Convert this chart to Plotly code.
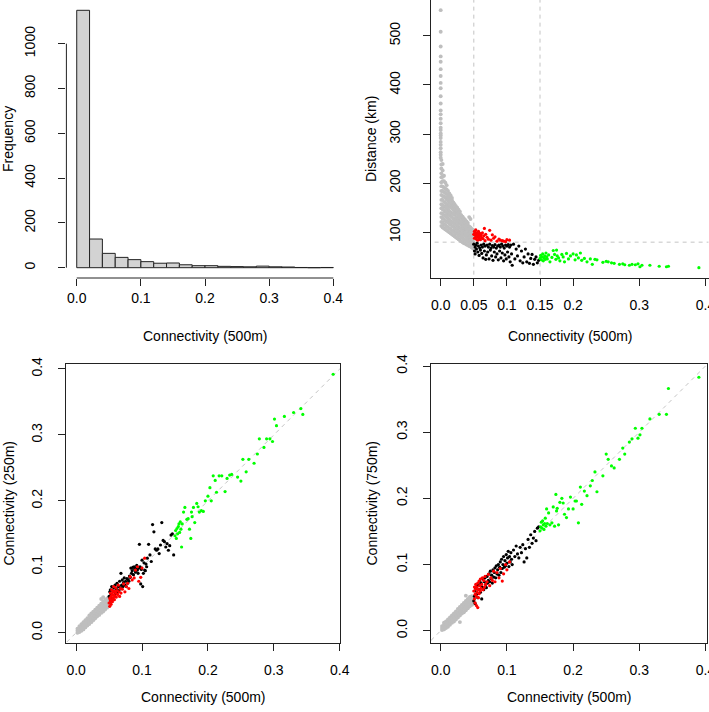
import plotly.graph_objects as go

W, H = 709, 712
FONT = "Liberation Sans, Arial, Helvetica, sans-serif"

# ---------------- data ----------------
bin_edges = [0.00, 0.02, 0.04, 0.06, 0.08, 0.10, 0.12, 0.14, 0.16, 0.18, 0.20,
             0.22, 0.24, 0.26, 0.28, 0.30, 0.32, 0.34, 0.36, 0.38, 0.40]
bin_counts = [1149, 128, 64, 46, 36, 27, 20, 21, 13, 9,
              9, 6, 5, 4, 7, 4, 3, 1, 0, 1]

hist_xticks = [0.0, 0.1, 0.2, 0.3, 0.4]
hist_xlabels = ["0.0", "0.1", "0.2", "0.3", "0.4"]
hist_yticks = [0, 200, 400, 600, 800, 1000]

dist_xticks = [0.0, 0.05, 0.1, 0.15, 0.2, 0.3, 0.4]
dist_xlabels = ["0.0", "0.05", "0.1", "0.15", "0.2", "0.3", "0.4"]
dist_yticks = [100, 200, 300, 400, 500]

conn_ticks = [0.0, 0.1, 0.2, 0.3, 0.4]
conn_labels = ["0.0", "0.1", "0.2", "0.3", "0.4"]

conn_cuts = [0.05, 0.15]
dist_cut = 80
diag_ends = [-0.1, 0.5]

green_c500 = [0.150, 0.151, 0.152, 0.153, 0.154, 0.155, 0.156, 0.157, 0.158, 0.159,
              0.160, 0.161, 0.163, 0.165, 0.168, 0.170, 0.172, 0.174, 0.175, 0.176,
              0.178, 0.180, 0.183, 0.185, 0.187, 0.190, 0.193, 0.196, 0.200, 0.203,
              0.205, 0.208, 0.211, 0.213, 0.217, 0.221, 0.226, 0.229, 0.233, 0.236,
              0.245, 0.250, 0.253, 0.258, 0.262, 0.270, 0.275, 0.278, 0.285, 0.289,
              0.294, 0.298, 0.301, 0.304, 0.316, 0.330, 0.341, 0.344, 0.390]
green_dist = [47, 53, 44, 50, 56, 42, 48, 52, 45, 58,
              50, 46, 54, 40, 49, 63, 55, 45, 64, 52,
              48, 42, 55, 50, 40, 57, 46, 52, 56, 44,
              54, 48, 58, 43, 47, 40, 46, 35, 45, 44,
              39, 41, 40, 38, 37, 35, 36, 34, 33, 35,
              34, 36, 30, 33, 33, 31, 30, 31, 28]
green_c250 = [0.147, 0.155, 0.143, 0.158, 0.150, 0.161, 0.165, 0.152, 0.168, 0.157,
              0.130, 0.165, 0.183, 0.190, 0.172, 0.173, 0.157, 0.143, 0.183, 0.176,
              0.190, 0.167, 0.196, 0.191, 0.183, 0.185, 0.184, 0.200, 0.207, 0.220,
              0.200, 0.238, 0.231, 0.213, 0.238, 0.238, 0.214, 0.234, 0.239, 0.240,
              0.236, 0.230, 0.263, 0.244, 0.263, 0.257, 0.271, 0.294, 0.281, 0.294,
              0.294, 0.290, 0.324, 0.314, 0.328, 0.334, 0.340, 0.331, 0.392]
green_c750 = [0.151, 0.157, 0.164, 0.155, 0.166, 0.160, 0.153, 0.162, 0.170, 0.158,
              0.184, 0.162, 0.178, 0.160, 0.163, 0.187, 0.158, 0.206, 0.181, 0.185,
              0.160, 0.194, 0.200, 0.193, 0.176, 0.171, 0.184, 0.202, 0.184, 0.196,
              0.196, 0.163, 0.217, 0.191, 0.211, 0.204, 0.219, 0.227, 0.240, 0.210,
              0.234, 0.267, 0.259, 0.249, 0.246, 0.259, 0.276, 0.267, 0.285, 0.290,
              0.306, 0.291, 0.296, 0.306, 0.320, 0.327, 0.327, 0.366, 0.383]

black_c500 = [0.050, 0.051, 0.052, 0.052, 0.053, 0.054, 0.055, 0.056, 0.057, 0.058,
              0.059, 0.060, 0.061, 0.062, 0.063, 0.064, 0.065, 0.066, 0.067, 0.068,
              0.069, 0.070, 0.071, 0.072, 0.073, 0.074, 0.075, 0.076, 0.077, 0.078,
              0.079, 0.080, 0.081, 0.082, 0.083, 0.084, 0.085, 0.086, 0.087, 0.088,
              0.089, 0.090, 0.091, 0.092, 0.093, 0.094, 0.095, 0.096, 0.097, 0.098,
              0.099, 0.100, 0.101, 0.102, 0.103, 0.104, 0.105, 0.106, 0.107, 0.108,
              0.110, 0.112, 0.114, 0.116, 0.118, 0.120, 0.122, 0.124, 0.126, 0.128,
              0.130, 0.132, 0.134, 0.136, 0.138, 0.140, 0.142, 0.144, 0.146, 0.148]
black_dist = [76, 62, 70, 56, 74, 66, 78, 60, 72, 53,
              68, 64, 74, 57, 70, 48, 76, 62, 72, 45,
              54, 74, 60, 70, 46, 76, 64, 68, 52, 73,
              43, 70, 60, 75, 50, 68, 56, 72, 44, 74,
              62, 70, 48, 76, 58, 72, 42, 68, 54, 74,
              46, 72, 60, 75, 50, 70, 40, 74, 56, 33,
              76, 46, 66, 52, 72, 42, 62, 38, 50, 66,
              40, 56, 37, 47, 55, 35, 45, 50, 38, 43]
black_c250 = [0.055, 0.062, 0.048, 0.065, 0.058, 0.070, 0.052, 0.063, 0.068, 0.057,
              0.072, 0.060, 0.066, 0.075, 0.062, 0.070, 0.064, 0.078, 0.068, 0.090,
              0.072, 0.080, 0.070, 0.076, 0.083, 0.072, 0.078, 0.070, 0.082, 0.075,
              0.080, 0.078, 0.086, 0.084, 0.098, 0.090, 0.094, 0.099, 0.088, 0.100,
              0.096, 0.092, 0.098, 0.102, 0.095, 0.090, 0.098, 0.134, 0.100, 0.074,
              0.096, 0.110, 0.070, 0.090, 0.106, 0.095, 0.094, 0.104, 0.100, 0.113,
              0.134, 0.118, 0.108, 0.164, 0.153, 0.127, 0.125, 0.127, 0.120, 0.133,
              0.167, 0.140, 0.138, 0.130, 0.135, 0.125, 0.132, 0.148, 0.150, 0.118]
black_c750 = [0.045, 0.052, 0.060, 0.041, 0.064, 0.055, 0.068, 0.050, 0.070, 0.062,
              0.075, 0.058, 0.072, 0.048, 0.066, 0.078, 0.062, 0.074, 0.080, 0.070,
              0.065, 0.082, 0.072, 0.076, 0.086, 0.074, 0.090, 0.079, 0.084, 0.072,
              0.092, 0.081, 0.088, 0.095, 0.080, 0.098, 0.086, 0.092, 0.100, 0.084,
              0.096, 0.104, 0.088, 0.108, 0.094, 0.100, 0.112, 0.096, 0.106, 0.098,
              0.115, 0.102, 0.110, 0.120, 0.097, 0.112, 0.104, 0.118, 0.108, 0.100,
              0.122, 0.112, 0.128, 0.116, 0.110, 0.126, 0.118, 0.130, 0.104, 0.124,
              0.110, 0.138, 0.126, 0.145, 0.132, 0.140, 0.150, 0.136, 0.155, 0.157]

red_c500 = [0.050, 0.051, 0.051, 0.052, 0.052, 0.053, 0.053, 0.054, 0.054, 0.055,
            0.055, 0.056, 0.056, 0.057, 0.057, 0.058, 0.058, 0.059, 0.060, 0.060,
            0.061, 0.062, 0.063, 0.064, 0.065, 0.066, 0.067, 0.068, 0.070, 0.072,
            0.074, 0.076, 0.078, 0.080, 0.082, 0.085, 0.088, 0.090, 0.093, 0.095,
            0.098, 0.100, 0.104]
red_dist = [96, 102, 88, 94, 100, 90, 105, 97, 86, 93,
            99, 91, 84, 96, 102, 88, 93, 98, 85, 92,
            95, 89, 99, 87, 93, 108, 83, 96, 90, 86,
            104, 84, 95, 88, 91, 82, 86, 84, 83, 82,
            81, 85, 84]
red_c250 = [0.045, 0.040, 0.052, 0.048, 0.060, 0.055, 0.043, 0.050, 0.065, 0.058,
            0.047, 0.062, 0.053, 0.057, 0.070, 0.050, 0.063, 0.055, 0.060, 0.068,
            0.054, 0.064, 0.058, 0.072, 0.062, 0.055, 0.067, 0.060, 0.066, 0.074,
            0.062, 0.070, 0.075, 0.067, 0.085, 0.080, 0.083, 0.095, 0.100, 0.078,
            0.084, 0.098, 0.113]
red_c750 = [0.060, 0.048, 0.066, 0.055, 0.042, 0.063, 0.070, 0.052, 0.038, 0.066,
            0.058, 0.072, 0.035, 0.062, 0.050, 0.075, 0.056, 0.068, 0.060, 0.078,
            0.064, 0.070, 0.080, 0.062, 0.076, 0.066, 0.082, 0.070, 0.074, 0.085,
            0.068, 0.080, 0.076, 0.090, 0.074, 0.088, 0.080, 0.094, 0.075, 0.086,
            0.100, 0.092, 0.104]

# grey (connectivity < 0.05) sites, listed as strips of equal 500 m connectivity
gray_dist_c500 = [0.000, 0.001, 0.003, 0.005, 0.007, 0.009, 0.011, 0.013, 0.015, 0.017,
                  0.019, 0.021, 0.023, 0.025, 0.027, 0.029, 0.031, 0.033, 0.035, 0.037,
                  0.039, 0.041, 0.043, 0.045, 0.047, 0.049]
gray_dist_rows = [
    [252, 258, 263, 271, 278, 284, 292, 297, 301, 308, 313, 322, 331, 340, 348, 362, 377, 393,
     404, 418, 432, 447, 458, 478, 508, 552],
    [113, 121, 131, 139, 149, 157, 166, 176, 184, 194, 202, 212, 220, 230, 238, 247],
    [110, 120, 128, 138, 147, 155, 166, 174, 184, 193, 204, 213, 226, 239],
    [108, 116, 127, 135, 145, 153, 162, 173, 182, 191, 204, 215],
    [106, 115, 123, 134, 142, 152, 160, 171, 180, 189, 201],
    [104, 112, 122, 131, 141, 149, 158, 167, 178, 187, 196],
    [102, 111, 120, 128, 136, 147, 155, 165, 173, 184],
    [100, 108, 118, 126, 135, 143, 153, 161, 171, 179],
    [98, 107, 116, 123, 133, 141, 151, 159, 167, 175],
    [96, 104, 113, 121, 131, 139, 149, 156, 165, 170],
    [94, 102, 112, 120, 128, 137, 146, 153, 161],
    [92, 101, 108, 118, 126, 136, 142, 151, 157],
    [90, 98, 107, 115, 124, 131, 140, 147, 153],
    [88, 97, 104, 113, 121, 129, 137, 144, 150],
    [86, 94, 103, 110, 119, 127, 133, 141, 146],
    [84, 93, 100, 109, 117, 123, 131, 137, 142],
    [82, 90, 99, 106, 115, 121, 129, 135],
    [80, 89, 96, 105, 111, 119, 125, 132],
    [78, 86, 95, 102, 110, 116, 123, 128],
    [77, 84, 93, 100, 108, 113, 120, 125],
    [75, 83, 90, 98, 106, 111, 117, 122],
    [74, 81, 89, 95, 103, 108, 114, 119],
    [72, 80, 86, 94, 100, 107, 112, 131],
    [71, 77, 85, 91, 99, 104, 110, 127],
    [69, 76, 82, 90, 96, 103, 107],
    [67, 73, 81, 87, 95, 100, 105],
]

gray_cmp_c500 = [0.002, 0.005, 0.008, 0.011, 0.014, 0.017, 0.020, 0.023, 0.026, 0.029,
                 0.032, 0.035, 0.038, 0.041, 0.044, 0.047, 0.049]
gray_c250_rows = [
    [0.000, 0.003, 0.006],
    [0.001, 0.004, 0.008, 0.010],
    [0.003, 0.006, 0.009, 0.013],
    [0.005, 0.009, 0.012, 0.016],
    [0.008, 0.011, 0.015, 0.019],
    [0.011, 0.014, 0.018, 0.022],
    [0.013, 0.017, 0.021, 0.026],
    [0.016, 0.020, 0.024, 0.029],
    [0.019, 0.023, 0.027, 0.032],
    [0.022, 0.026, 0.030, 0.035],
    [0.025, 0.029, 0.033, 0.038],
    [0.027, 0.031, 0.036, 0.041],
    [0.030, 0.034, 0.039, 0.044, 0.051],
    [0.032, 0.037, 0.042, 0.047, 0.054],
    [0.035, 0.040, 0.045, 0.050],
    [0.038, 0.042, 0.047, 0.052],
    [0.040, 0.045, 0.050],
]
gray_c750_rows = [
    [0.001, 0.004, 0.007],
    [0.002, 0.005, 0.009, 0.012],
    [0.004, 0.007, 0.011, 0.014],
    [0.006, 0.010, 0.013, 0.017],
    [0.009, 0.012, 0.016, 0.020],
    [0.012, 0.015, 0.019, 0.023],
    [0.014, 0.018, 0.022, 0.026],
    [0.017, 0.021, 0.025, 0.029],
    [0.020, 0.024, 0.028, 0.033],
    [0.013, 0.023, 0.027, 0.031, 0.036],
    [0.026, 0.030, 0.034, 0.039],
    [0.028, 0.033, 0.037, 0.042],
    [0.031, 0.035, 0.040, 0.045, 0.053],
    [0.034, 0.038, 0.043, 0.048],
    [0.037, 0.041, 0.046, 0.051],
    [0.039, 0.043, 0.048, 0.052],
    [0.041, 0.046, 0.050],
]

# ---------------- layout geometry (pixels) ----------------
PANELS = {
    1: dict(x=(66.4, 343.6), y=(0.0, 278.0), xr=(-0.0161, 0.416), yr=(-46, 1195)),
    2: dict(x=(430.7, 708.5), y=(0.0, 277.7), xr=(-0.0151, 0.4045), yr=(7.7, 572.7)),
    3: dict(x=(66.0, 340.0), y=(364.3, 642.7), xr=(-0.0154, 0.4004), yr=(-0.0152, 0.4071)),
    4: dict(x=(430.7, 706.7), y=(364.3, 642.7), xr=(-0.0151, 0.4018), yr=(-0.0181, 0.4026)),
}
# tick-label standoffs tuned per panel (x, y)
STANDOFF = {1: (0, 18), 2: (7, 17), 3: (7, 10), 4: (7, 10)}


def flat(xs, rows):
    fx, fy = [], []
    for x, row in zip(xs, rows):
        for v in row:
            fx.append(x)
            fy.append(v)
    return fx, fy


def px_to_paper_x(px):
    return px / W


def px_to_paper_y(py):
    return 1 - py / H


def data_to_px_x(p, v):
    (l, r), (a, b) = PANELS[p]["x"], PANELS[p]["xr"]
    return l + (v - a) / (b - a) * (r - l)


def data_to_px_y(p, v):
    (t, bt), (a, b) = PANELS[p]["y"], PANELS[p]["yr"]
    return bt - (v - a) / (b - a) * (bt - t)


fig = go.Figure()

PT = 3.2
PT_GRAY = 3.9
COL_GRAY, COL_BLACK, COL_RED, COL_GREEN = "#bebebe", "#000000", "#ff0000", "#00ff00"
DASH_COL = "#c4c4c4"


def pts(x, y, color, xa, ya, size=PT):
    fig.add_trace(go.Scatter(x=x, y=y, mode="markers", xaxis=xa, yaxis=ya,
                             marker=dict(size=size, color=color, line=dict(width=0)),
                             hoverinfo="skip", showlegend=False))


def dline(x, y, xa, ya):
    fig.add_trace(go.Scatter(x=x, y=y, mode="lines", xaxis=xa, yaxis=ya,
                             line=dict(color=DASH_COL, width=1, dash="4px,4px"),
                             hoverinfo="skip", showlegend=False))


# panel 1: histogram
centers = [(a + b) / 2 for a, b in zip(bin_edges[:-1], bin_edges[1:])]
widths = [b - a for a, b in zip(bin_edges[:-1], bin_edges[1:])]
fig.add_trace(go.Bar(x=centers, y=bin_counts, width=widths, xaxis="x", yaxis="y",
                     marker=dict(color="#d3d3d3", line=dict(color="#222222", width=1)),
                     hoverinfo="skip", showlegend=False))

# panel 2: distance vs connectivity
for c in conn_cuts:
    dline([c, c], [-100, 1000], "x2", "y2")
dline([-1, 1], [dist_cut, dist_cut], "x2", "y2")
gx, gy = flat(gray_dist_c500, gray_dist_rows)
pts(gx, gy, COL_GRAY, "x2", "y2", PT_GRAY)
pts(black_c500, black_dist, COL_BLACK, "x2", "y2")
pts(red_c500, red_dist, COL_RED, "x2", "y2")
pts(green_c500, green_dist, COL_GREEN, "x2", "y2")

# panel 3: 250 m vs 500 m
dline(diag_ends, diag_ends, "x3", "y3")
gx, gy = flat(gray_cmp_c500, gray_c250_rows)
pts(gx, gy, COL_GRAY, "x3", "y3", PT_GRAY)
pts(black_c500, black_c250, COL_BLACK, "x3", "y3")
pts(red_c500, red_c250, COL_RED, "x3", "y3")
pts(green_c500, green_c250, COL_GREEN, "x3", "y3")

# panel 4: 750 m vs 500 m
dline(diag_ends, diag_ends, "x4", "y4")
gx, gy = flat(gray_cmp_c500, gray_c750_rows)
pts(gx, gy, COL_GRAY, "x4", "y4", PT_GRAY)
pts(black_c500, black_c750, COL_BLACK, "x4", "y4")
pts(red_c500, red_c750, COL_RED, "x4", "y4")
pts(green_c500, green_c750, COL_GREEN, "x4", "y4")

LINE_COL = "#222222"
TICKFONT = dict(family=FONT, size=14, color="#000000")


def axis(p, which, tickvals, ticktext, box, anchor):
    P = PANELS[p]
    if which == "x":
        dom = [px_to_paper_x(P["x"][0]), px_to_paper_x(P["x"][1])]
        rng = list(P["xr"])
    else:
        dom = [px_to_paper_y(P["y"][1]), px_to_paper_y(P["y"][0])]
        rng = list(P["yr"])
    d = dict(domain=dom, range=rng, anchor=anchor, tickmode="array",
             tickvals=tickvals, ticktext=ticktext, ticks="outside", ticklen=7,
             tickwidth=1, tickcolor=LINE_COL, showgrid=False, zeroline=False,
             showline=box, mirror=box, linecolor=LINE_COL, linewidth=1,
             tickfont=TICKFONT, automargin=False, fixedrange=True,
             ticklabeloverflow="allow")
    if which == "y":
        d["tickangle"] = -90
        d["ticklabelstandoff"] = STANDOFF[p][1]
    else:
        d["ticklabelstandoff"] = STANDOFF[p][0]
    return d


hist_ytext = [str(v) for v in hist_yticks]
dist_ytext = [str(v) for v in dist_yticks]

fig.update_layout(
    width=W, height=H, margin=dict(l=0, r=0, t=0, b=0),
    paper_bgcolor="white", plot_bgcolor="white", template="none",
    showlegend=False, bargap=0, font=dict(family=FONT, size=14, color="#000"),
    xaxis=axis(1, "x", hist_xticks, hist_xlabels, False, "y"),
    yaxis=axis(1, "y", hist_yticks, hist_ytext, False, "x"),
    xaxis2=axis(2, "x", dist_xticks, dist_xlabels, True, "y2"),
    yaxis2=axis(2, "y", dist_yticks, dist_ytext, True, "x2"),
    xaxis3=axis(3, "x", conn_ticks, conn_labels, True, "y3"),
    yaxis3=axis(3, "y", conn_ticks, conn_labels, True, "x3"),
    xaxis4=axis(4, "x", conn_ticks, conn_labels, True, "y4"),
    yaxis4=axis(4, "y", conn_ticks, conn_labels, True, "x4"),
)

# histogram axis lines span only the tick range (R style)
hx0, hx1 = data_to_px_x(1, hist_xticks[0]), data_to_px_x(1, hist_xticks[-1])
hy0, hy1 = data_to_px_y(1, hist_yticks[0]), data_to_px_y(1, hist_yticks[-1])
xb = PANELS[1]["y"][1]
yl = PANELS[1]["x"][0]
fig.add_shape(type="line", xref="paper", yref="paper",
              x0=px_to_paper_x(hx0), x1=px_to_paper_x(hx1),
              y0=px_to_paper_y(xb), y1=px_to_paper_y(xb),
              line=dict(color=LINE_COL, width=1))
fig.add_shape(type="line", xref="paper", yref="paper",
              x0=px_to_paper_x(yl), x1=px_to_paper_x(yl),
              y0=px_to_paper_y(hy0), y1=px_to_paper_y(hy1),
              line=dict(color=LINE_COL, width=1))

# axis titles
titles = [
    ("Connectivity (500m)", 205, 336, 0),
    ("Connectivity (500m)", 570, 336, 0),
    ("Connectivity (500m)", 203, 697, 0),
    ("Connectivity (500m)", 569, 697, 0),
    ("Frequency", 8, 139, -90),
    ("Distance (km)", 371, 139, -90),
    ("Connectivity (250m)", 8, 503.5, -90),
    ("Connectivity (750m)", 371, 503.5, -90),
]
for text, x, y, ang in titles:
    fig.add_annotation(text=text, xref="paper", yref="paper",
                       x=px_to_paper_x(x), y=px_to_paper_y(y),
                       xanchor="center", yanchor="middle", showarrow=False,
                       textangle=ang, font=dict(family=FONT, size=14, color="#000"))

fig.write_html(
    "out.html",
    config={"displayModeBar": False, "staticPlot": True},
    post_script="document.body.style.margin='0px';document.body.style.padding='0px';"
                "document.body.style.overflow='hidden';",
)
